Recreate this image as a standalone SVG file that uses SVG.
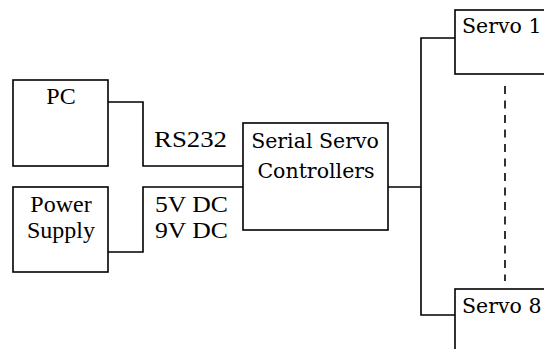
<svg xmlns="http://www.w3.org/2000/svg" width="544" height="349" viewBox="0 0 544 349">
<style>
.box{fill:#fff;stroke:#000;stroke-width:1.6}
.ln{fill:none;stroke:#000;stroke-width:1.6}
</style>
<rect width="544" height="349" fill="#fff"/>
<g id="connectors">
<polyline class="ln" points="108,102 143,102 143,166 243,166"/>
<polyline class="ln" points="108,252 143,252 143,187 243,187"/>
<line class="ln" x1="388" y1="187" x2="421" y2="187"/>
<polyline class="ln" points="455,38 421,38 421,315 455,315"/>
<line class="ln" x1="505" y1="86" x2="505" y2="281" stroke-dasharray="8 6.5"/>
<text font-family="Liberation Serif, serif" font-size="24" x="154" y="147" textLength="73" lengthAdjust="spacingAndGlyphs">RS232</text>
<text font-family="Liberation Serif, serif" font-size="24" x="155" y="212" textLength="73" lengthAdjust="spacingAndGlyphs">5V DC</text>
<text font-family="Liberation Serif, serif" font-size="24" x="155" y="238" textLength="73" lengthAdjust="spacingAndGlyphs">9V DC</text>
</g>
<g id="pc">
<rect class="box" x="13" y="80" width="95" height="86"/>
<text font-family="Liberation Serif, serif" font-size="24" x="61" y="104" text-anchor="middle">PC</text>
</g>
<g id="power">
<rect class="box" x="13" y="187" width="95" height="85"/>
<text font-family="Liberation Serif, serif" font-size="24" x="61" y="212" text-anchor="middle">Power</text>
<text font-family="Liberation Serif, serif" font-size="24" x="61" y="238" text-anchor="middle">Supply</text>
</g>
<g id="controller">
<rect class="box" x="243" y="123" width="145" height="107"/>
<text font-family="DejaVu Serif, serif" font-size="20.5" x="315" y="148" text-anchor="middle">Serial Servo</text>
<text font-family="DejaVu Serif, serif" font-size="20.5" x="316" y="178" text-anchor="middle">Controllers</text>
</g>
<g id="servo1">
<rect class="box" x="455" y="10" width="110" height="64"/>
<text font-family="DejaVu Serif, serif" font-size="20.5" x="462" y="33">Servo 1</text>
</g>
<g id="servo8">
<rect class="box" x="455" y="289" width="110" height="80"/>
<text font-family="DejaVu Serif, serif" font-size="20.5" x="462" y="313">Servo 8</text>
</g>
</svg>
